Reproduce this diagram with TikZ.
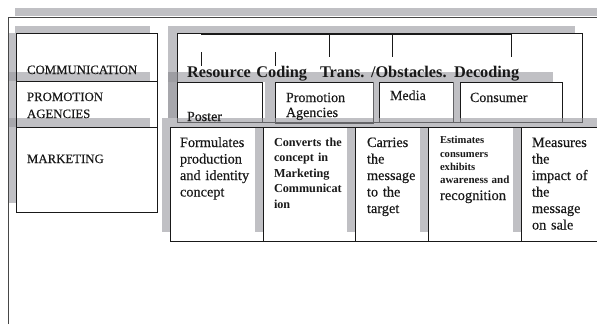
\documentclass[tikz,border=0pt]{standalone}
\usepackage{fontspec}
\setmainfont{Liberation Serif}[UprightFeatures={FakeBold=0.4}]
\definecolor{shd}{RGB}{150,150,156}
\definecolor{ink}{RGB}{25,25,25}
\begin{document}
\begin{tikzpicture}[x=1pt,y=-1pt,
  shadow/.style={fill=shd,fill opacity=0.6,draw=none},
  box/.style={draw=ink,line width=0.7pt,inner sep=0pt,outer sep=0pt,anchor=north west},
  frame/.style={draw=ink!80,line width=0.8pt},
  tick/.style={draw=ink,line width=0.7pt},
  txt/.style={anchor=base west,inner sep=0pt,outer sep=0pt,text=ink,align=left,text width=#1},
  txt/.default=110pt,
  lcol/.style={font=\fontsize{12.8}{17}\selectfont},
  ttl/.style={font=\bfseries\fontsize{16.3}{19}\selectfont},
  rtwo/.style={font=\fontsize{14}{15}\selectfont},
  rthree/.style={font=\fontsize{14.3}{16.5}\selectfont},
  rconv/.style={font=\bfseries\fontsize{12.2}{15.5}\selectfont},
  rest/.style={font=\bfseries\fontsize{10.6}{13}\selectfont}]
\useasboundingbox (0,0) rectangle (597,324);
\clip (0,0) rectangle (597,324);

% row 2 boxes (partly hidden by the grey band below them)
\node[box,minimum width=405pt,minimum height=89pt] (big) at (177,33) {};
\node[box,minimum width=85pt,minimum height=40pt] (poster) at (177,82) {};
\node[box,minimum width=98pt,minimum height=41pt] (promag) at (275,82) {};
\node[box,minimum width=74pt,minimum height=40pt] (media) at (379,82) {};
\node[box,minimum width=102pt,minimum height=40pt] (cons) at (460,82) {};

% grey shadows
\fill[shadow] (15,8) rectangle (597,16);
\fill[shadow] (15,26) rectangle (150,33);
\fill[shadow] (8,33) rectangle (16,203);
\fill[shadow] (8,72) rectangle (150,81);
\fill[shadow] (8,118) rectangle (150,127);
\fill[shadow] (168,26) rectangle (575,33);
\fill[shadow] (168,33) rectangle (177,118);
\fill[shadow] (168,72) rectangle (177,118);
\fill[shadow] (168,72) rectangle (553,82);
\fill[shadow] (265,82) rectangle (275,118);
\fill[shadow] (373,82) rectangle (379,118);
\fill[shadow] (453,82) rectangle (460,118);
\fill[shadow] (162,118) rectangle (597,127);
\fill[shadow] (162,127) rectangle (170,232);
\fill[shadow] (255,127) rectangle (263,232);
\fill[shadow] (347,127) rectangle (355,232);
\fill[shadow] (420,127) rectangle (428,232);
\fill[shadow] (513,127) rectangle (521,232);

% outer frame
\coordinate (f1) at (8,324);
\coordinate (f2) at (8,17);
\coordinate (f3) at (597,17);
\draw[frame] (f1) -- (f2) -- (f3);

% left column
\node[box,minimum width=141pt,minimum height=48pt] (comm) at (16,33) {};
\node[box,minimum width=141pt,minimum height=46pt] (promo) at (16,81) {};
\node[box,minimum width=141pt,minimum height=85pt] (mkt) at (16,127) {};

% row 3
\node[box,minimum width=93pt,minimum height=114pt] (form) at (170,127) {};
\node[box,minimum width=92pt,minimum height=114pt] (conv) at (263,127) {};
\node[box,minimum width=73pt,minimum height=114pt] (carr) at (355,127) {};
\node[box,minimum width=93pt,minimum height=114pt] (esti) at (428,127) {};
\node[box,minimum width=90pt,minimum height=114pt] (meas) at (521,127) {};

% bracket with ticks
\coordinate (b1) at (201,34);
\coordinate (b2) at (511,34);
\draw[tick,line width=1pt] (b1) -- (b2);
\coordinate (t1a) at (201,52); \coordinate (t1b) at (201,66);
\coordinate (t2a) at (275,52); \coordinate (t2b) at (275,66);
\coordinate (t3a) at (329,34); \coordinate (t3b) at (329,57);
\coordinate (t4a) at (392,34); \coordinate (t4b) at (392,57);
\coordinate (t5b) at (511,57);
\draw[tick] (t1a) -- (t1b);
\draw[tick] (t2a) -- (t2b);
\draw[tick] (t3a) -- (t3b);
\draw[tick] (t4a) -- (t4b);
\draw[tick] (b2) -- (t5b);

% texts
\node[txt,lcol] (tcomm) at (27,74) {COMMUNICATION};
\node[txt,lcol] (tpromo) at (27,101) {PROMOTION\\AGENCIES};
\node[txt,lcol] (tmkt) at (27,163) {MARKETING};

\node[txt=130pt,ttl] (ti1) at (187,77) {Resource Coding};
\node[txt=50pt,ttl] (ti2) at (320,77) {Trans.};
\node[txt=90pt,ttl] (ti3) at (371,77) {/Obstacles.};
\node[txt=80pt,ttl] (ti4) at (454,77) {Decoding};

\node[txt,rtwo] (tposter) at (187,121) {Poster};
\node[txt,rtwo] (tpromag) at (286,102) {Promotion\\Agencies};
\node[txt,rtwo] (tmedia) at (390,100) {Media};
\node[txt,rtwo] (tcons) at (470,102) {Consumer};

\node[txt,rthree] (tform) at (180,147) {Formulates\\production\\and identity\\concept};
\node[txt,rconv] (tconv) at (274,146) {Converts the\\concept in\\Marketing\\Communicat\\ion};
\node[txt,rthree] (tcarr) at (367,147) {Carries\\the\\message\\to the\\target};
\node[txt,rest] (te1) at (440,143) {Estimates};
\node[txt,rest] (te2) at (440,157) {consumers};
\node[txt,rest] (te3) at (440,170) {exhibits};
\node[txt,rest,font=\bfseries\fontsize{11}{13}\selectfont] (te4) at (440,183) {awareness and};
\node[txt,font=\fontsize{14.5}{16}\selectfont] (te5) at (440,200) {recognition};
\node[txt,rthree] (tmeas) at (532,147) {Measures\\the\\impact of\\the\\message\\on sale};
\end{tikzpicture}
\end{document}
